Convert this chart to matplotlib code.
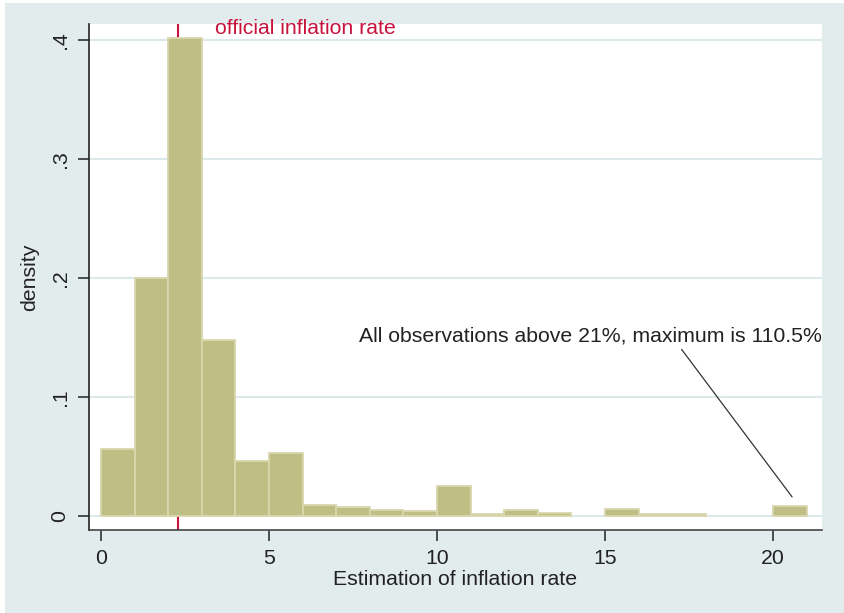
import numpy as np
import matplotlib.pyplot as plt

plt.rcParams['font.family'] = ['Liberation Sans', 'DejaVu Sans']

# histogram bins (width 1, from 0 to 21) and densities
bin_left = np.arange(0, 21)
density = np.array([0.056, 0.200, 0.402, 0.148, 0.046, 0.053, 0.009, 0.0076, 0.005, 0.0045,
                    0.0255, 0.0019, 0.0048, 0.0028, 0.0, 0.0059, 0.0019, 0.0019, 0.0, 0.0, 0.0087])
official_rate = 2.3
yticks = [0, 0.1, 0.2, 0.3, 0.4]
ytick_labels = ['0', '.1', '.2', '.3', '.4']
xticks = [0, 5, 10, 15, 20]

bg = '#E2ECED'
fs = 15.3
fig = plt.figure(figsize=(8.45, 6.13), dpi=100, facecolor='white')
fig.patches.append(plt.Rectangle((5 / 845, 0), 1, 1 - 3 / 613, transform=fig.transFigure,
                                 facecolor=bg, edgecolor='none', zorder=-10))
ax = fig.add_axes([89 / 845, 83 / 613, 733 / 845, 506 / 613])
ax.set_facecolor('white')

for y in yticks:
    ax.axhline(y, color='#DCE8EA', linewidth=1.5, zorder=0)

ax.axvline(official_rate, color='#C8143C', linewidth=1.5, zorder=1)
nonzero = density > 0
ax.bar(bin_left[nonzero], density[nonzero], width=1, align='edge', color='#BFBE84',
       edgecolor='#D9D7AC', linewidth=1.3, zorder=2)

ax.set_xlim(-0.36, 21.46)
ax.set_ylim(-0.0118, 0.4134)

ax.spines['top'].set_visible(False)
ax.spines['right'].set_visible(False)
ax.spines['left'].set_color('#222222')
ax.spines['bottom'].set_color('#444444')
ax.spines['left'].set_linewidth(1.2)
ax.spines['bottom'].set_linewidth(1.2)

ax.set_xticks(xticks)
ax.set_yticks(yticks)
ax.set_yticklabels(ytick_labels, rotation=90, va='center')
ax.tick_params(axis='both', length=8, width=1.1, labelsize=fs, colors='#222222', pad=6)
ax.set_xlabel('Estimation of inflation rate', fontsize=fs, color='#222222', labelpad=1)
ax.set_ylabel('density', fontsize=fs, color='#222222', labelpad=8)

ax.text(official_rate + 1.1, 0.4095, 'official inflation rate', color='#C8143C',
        fontsize=fs, ha='left', va='center', clip_on=False)

# note and its pointer line toward the last bin
ax.text(14.58, 0.151, 'All observations above 21%, maximum is 110.5%',
        fontsize=fs, color='#222222', ha='center', va='center')
ax.annotate('', xy=(20.57, 0.016), xytext=(17.28, 0.140),
            arrowprops=dict(arrowstyle='-', color='#333333', linewidth=0.9,
                            shrinkA=0, shrinkB=0))

fig.savefig('out.png', dpi=100, facecolor=fig.get_facecolor())
